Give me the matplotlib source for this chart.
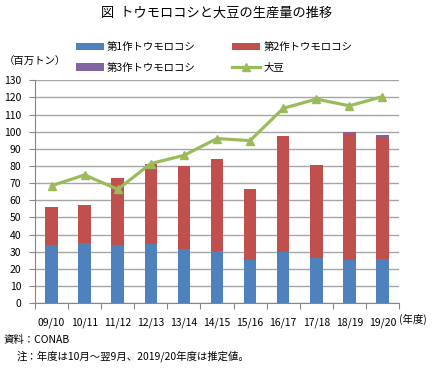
import matplotlib
matplotlib.use("Agg")
import matplotlib.pyplot as plt
import numpy as np

plt.rcParams['font.family'] = ['Noto Sans CJK JP', 'DejaVu Sans']

years = ["09/10", "10/11", "11/12", "12/13", "13/14", "14/15", "15/16", "16/17", "17/18", "18/19", "19/20"]
corn1 = [33.8, 35.0, 33.8, 34.6, 31.7, 30.3, 25.4, 30.1, 26.6, 25.4, 25.8]
corn2 = [22.1, 22.5, 39.0, 46.6, 48.1, 54.0, 41.0, 67.2, 53.8, 73.4, 71.3]
corn3 = [0, 0, 0, 0, 0, 0, 0, 0, 0, 1.0, 1.0]
soy = [68.5, 74.8, 66.4, 81.4, 86.2, 96.0, 94.8, 113.6, 119.0, 115.1, 120.4]

W, H = 434, 368
fig = plt.figure(figsize=(W/100, H/100), dpi=100)
ax = fig.add_axes([35/W, 1-303.3/H, (399-35)/W, (303.3-80.2)/H])

x = np.arange(len(years))
c1 = np.array(corn1); c2 = np.array(corn2); c3 = np.array(corn3)
bw = 0.38
b1 = ax.bar(x, c1, bw, color='#4F81BD', label='第1作トウモロコシ', zorder=2)
b2 = ax.bar(x, c2, bw, bottom=c1, color='#C0504D', label='第2作トウモロコシ', zorder=2)
b3 = ax.bar(x, c3, bw, bottom=c1+c2, color='#8064A2', label='第3作トウモロコシ', zorder=2)
ln, = ax.plot(x, soy, color='#9BBB59', lw=2.3, marker='^', ms=6, label='大豆', zorder=3)

ax.set_ylim(0, 130)
ax.set_xlim(-0.5, len(years)-0.5)
ax.set_yticks(np.arange(0, 131, 10))
ax.yaxis.grid(True, color='#A6A6A6', lw=1.0, zorder=0)
ax.set_axisbelow(True)
for s in ['top', 'right']:
    ax.spines[s].set_visible(False)
ax.spines['left'].set_color('#868686')
ax.spines['bottom'].set_color('#868686')
ax.tick_params(axis='y', labelsize=7.5, length=4, color='#868686', pad=6)
ax.set_xticks(np.arange(-0.5, len(years), 1.0), minor=False)
ax.set_xticklabels([])
ax.set_xticks(x, minor=True)
ax.set_xticklabels(years, minor=True)
ax.tick_params(axis='x', which='major', length=4, color='#868686')
ax.tick_params(axis='x', which='minor', length=0, labelsize=7.5, pad=10)

fig.text(217/W, 1-13/H, '図  トウモロコシと大豆の生産量の推移', ha='center', va='center', fontsize=9.5)
fig.text(4/W, 1-62/H, '（百万トン）', ha='left', va='center', fontsize=7.5)
fig.text(399/W, 1-319/H, '(年度)', ha='left', va='center', fontsize=7.5)
fig.text(4/W, 1-340/H, '資料：CONAB', ha='left', va='center', fontsize=7.5)
fig.text(17/W, 1-356/H, '注：年度は10月～翌9月、2019/20年度は推定値。', ha='left', va='center', fontsize=7.5)

h = [b1, b3, b2, ln]
l = [o.get_label() for o in h]
fig.legend(h, l, ncol=2, loc='center', bbox_to_anchor=(214/W, 1-57.5/H), frameon=False,
           fontsize=7.5, columnspacing=3.5, handlelength=2.7, handletextpad=0.3, labelspacing=1.0)

fig.savefig('out.png', dpi=100)
